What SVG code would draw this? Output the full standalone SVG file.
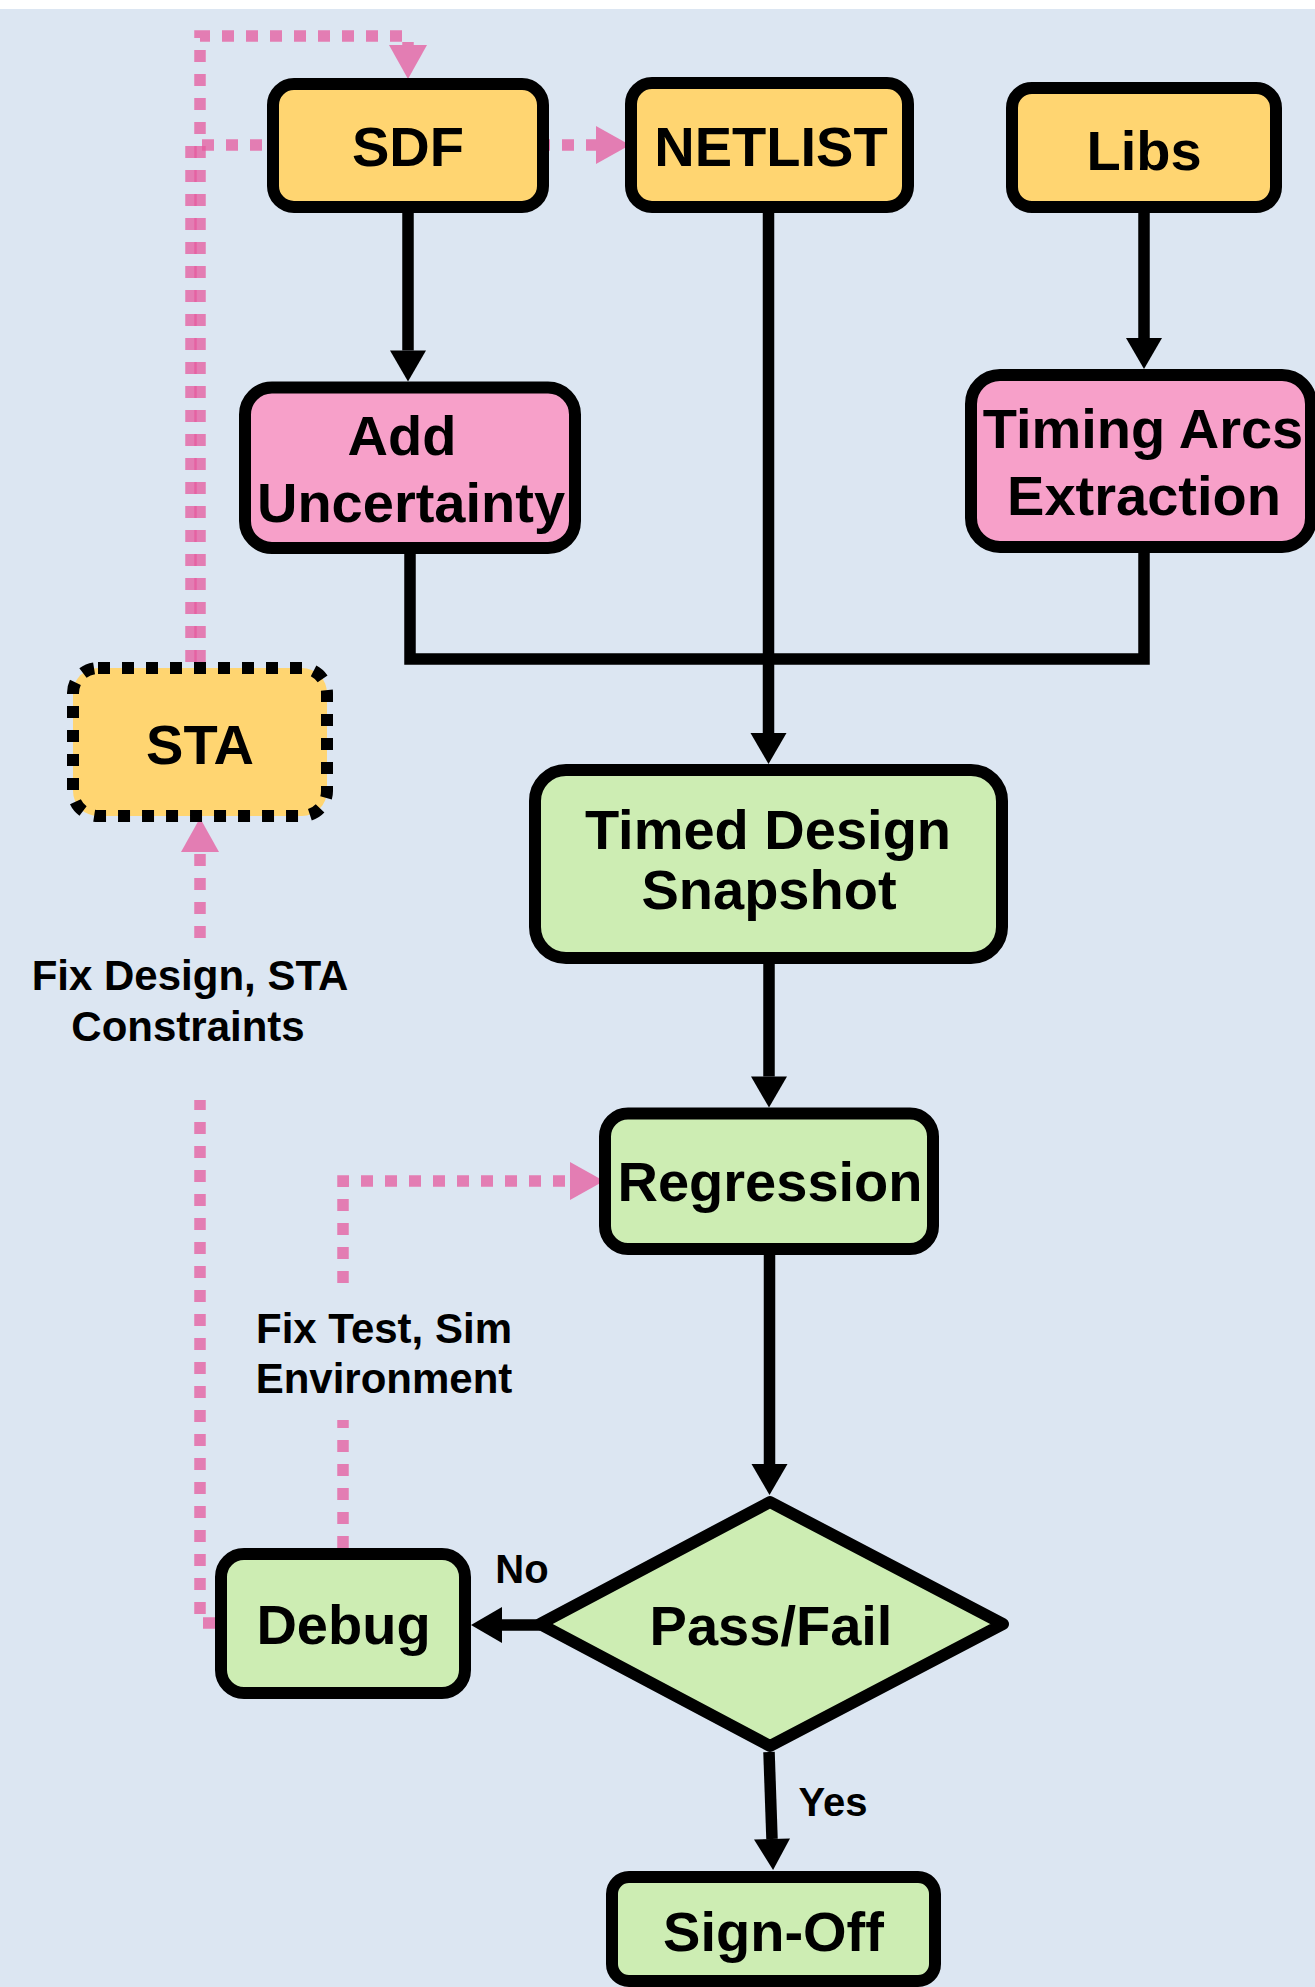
<svg xmlns="http://www.w3.org/2000/svg" width="1315" height="1987" viewBox="0 0 1315 1987">
<style>
.bg{fill:#DCE6F2}
.box{stroke:#000;stroke-width:12}
.yel{fill:#FFD571}
.pnk{fill:#F7A0C9}
.grn{fill:#CDEDB3}
.dash{stroke-dasharray:12 12}
.t{font-family:"Liberation Sans",Arial,Helvetica,sans-serif;font-weight:bold;font-size:56px;fill:#000;text-anchor:middle}
.lbl{font-size:42px}
.yn{font-size:40px}
.cb{fill:none;stroke:#000;stroke-width:11.5}
.cp{fill:none;stroke:#E55A9E;stroke-opacity:0.75;stroke-width:11.5;stroke-dasharray:12 12}
</style>
<defs>
<marker id="ab" markerUnits="userSpaceOnUse" markerWidth="32" markerHeight="36" refX="0" refY="18" orient="auto" overflow="visible">
<path d="M0,0 L31,18 L0,36 Z" fill="#000"/>
</marker>
<marker id="ap" markerUnits="userSpaceOnUse" markerWidth="34" markerHeight="38" refX="0" refY="19" orient="auto" overflow="visible">
<path d="M0,0 L34,19 L0,38 Z" fill="#E55A9E" fill-opacity="0.75"/>
</marker>
</defs>
<rect x="0" y="0" width="1315" height="1987" fill="#FFFFFF"/>
<rect class="bg" x="0" y="9" width="1315" height="1978"/>

<g id="connectors">
<path class="cb" d="M408,213 V350.5" marker-end="url(#ab)"/>
<path class="cb" d="M768.5,213 V733" marker-end="url(#ab)"/>
<path class="cb" d="M1144,213 V338" marker-end="url(#ab)"/>
<path class="cb" d="M410,554 V659 H1144 V553"/>
<path class="cb" d="M769,964 V1076.5" marker-end="url(#ab)"/>
<path class="cb" d="M769.5,1255 V1464" marker-end="url(#ab)"/>
<path class="cb" d="M540,1625 H502" marker-end="url(#ab)"/>
<path class="cb" d="M769,1752 L772,1839" marker-end="url(#ab)"/>
<path class="cp" d="M200,662 V36 H408 V45" marker-end="url(#ap)"/>
<path class="cp" d="M191,662 V145 H596" marker-end="url(#ap)"/>
<path class="cp" d="M215,1623 H200 V1100"/>
<path class="cp" d="M200,938 V852" marker-end="url(#ap)"/>
<path class="cp" d="M343,1548 V1420"/>
<path class="cp" d="M343,1283 V1181 H570" marker-end="url(#ap)"/>
</g>

<g id="label-fix-design">
<text class="t lbl" x="190" y="990">Fix Design, STA<tspan x="188" y="1041">Constraints</tspan></text>
</g>
<g id="label-fix-test">
<text class="t lbl" x="384" y="1343">Fix Test, Sim<tspan x="384" y="1393">Environment</tspan></text>
</g>
<g id="label-no"><text class="t yn" x="522" y="1583">No</text></g>
<g id="label-yes"><text class="t yn" x="833" y="1816">Yes</text></g>

<g id="node-sdf">
<rect class="box yel" x="273" y="84" width="270" height="123" rx="21"/>
<text class="t" x="408" y="166">SDF</text>
</g>
<g id="node-netlist">
<rect class="box yel" x="631" y="83" width="277" height="124" rx="21"/>
<text class="t" x="771" y="166">NETLIST</text>
</g>
<g id="node-libs">
<rect class="box yel" x="1012" y="88" width="264" height="119" rx="20"/>
<text class="t" x="1144" y="170">Libs</text>
</g>
<g id="node-add-uncertainty">
<rect class="box pnk" x="245" y="387.5" width="330" height="160.5" rx="27"/>
<text class="t" x="402" y="455">Add<tspan x="411" y="522">Uncertainty</tspan></text>
</g>
<g id="node-timing-arcs">
<rect class="box pnk" x="971" y="375" width="340" height="172" rx="29"/>
<text class="t" x="1143" y="448">Timing Arcs<tspan x="1144" y="515">Extraction</tspan></text>
</g>
<g id="node-sta">
<rect class="yel" x="73" y="668" width="254" height="148" rx="25"/>
<rect x="73" y="668" width="254" height="148" rx="25" fill="none" stroke="#000" stroke-width="12" class="dash"/>
<text class="t" x="200" y="764">STA</text>
</g>
<g id="node-timed-design">
<rect class="box grn" x="535" y="770" width="467" height="188" rx="31"/>
<text class="t" x="768" y="849">Timed Design<tspan x="769" y="909">Snapshot</tspan></text>
</g>
<g id="node-regression">
<rect class="box grn" x="605" y="1113.5" width="328" height="135.5" rx="23"/>
<text class="t" x="770" y="1201">Regression</text>
</g>
<g id="node-pass-fail">
<polygon class="box grn" points="770,1502 1003,1624 770,1746 540,1624" stroke-linejoin="round"/>
<text class="t" x="771" y="1645">Pass/Fail</text>
</g>
<g id="node-debug">
<rect class="box grn" x="221" y="1554" width="244" height="139" rx="23"/>
<text class="t" x="343.5" y="1644">Debug</text>
</g>
<g id="node-sign-off">
<rect class="box grn" x="612" y="1877" width="323" height="104" rx="17"/>
<text class="t" x="773.5" y="1951">Sign-Off</text>
</g>
</svg>
